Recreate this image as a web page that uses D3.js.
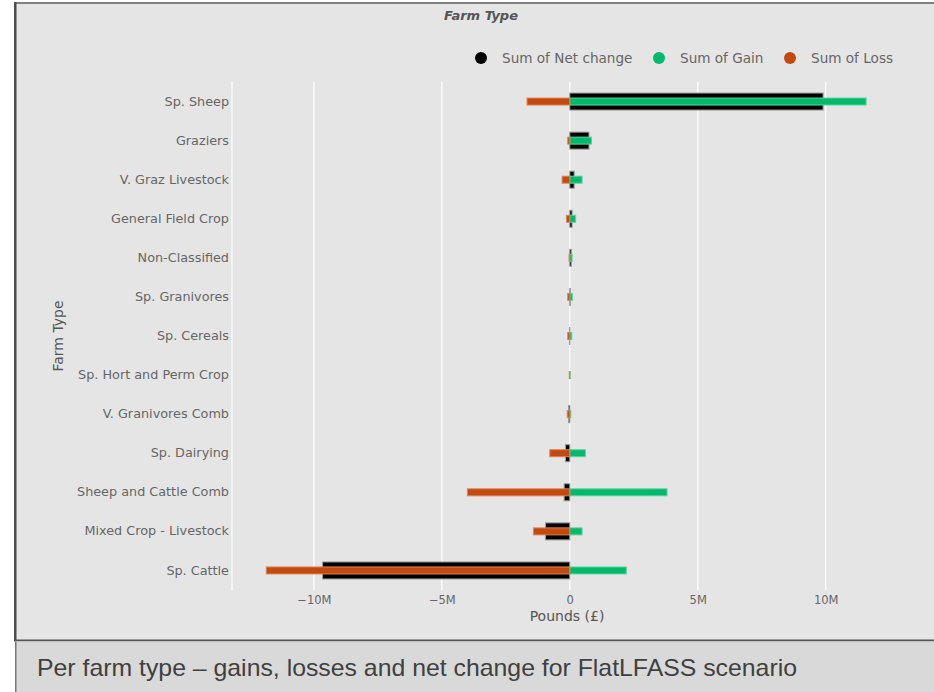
<!DOCTYPE html>
<html>
<head>
<meta charset="utf-8">
<script src="https://cdn.jsdelivr.net/npm/d3@7"></script>
<style>
  html, body { margin: 0; padding: 0; background: #fff; }
  svg { display: block; }
</style>
</head>
<body>
<div id="chart"></div>
<script>
// values, in millions of pounds
var farmTypes = ["Sp. Sheep", "Graziers", "V. Graz Livestock", "General Field Crop",
    "Non-Classified", "Sp. Granivores", "Sp. Cereals", "Sp. Hort and Perm Crop",
    "V. Granivores Comb", "Sp. Dairying", "Sheep and Cattle Comb",
    "Mixed Crop - Livestock", "Sp. Cattle"];
var netChange = [9.9, 0.75, 0.17, 0.09, 0.06, 0.02, -0.01, 0.0, -0.05, -0.17, -0.22, -0.95, -9.66];
var gain      = [11.58, 0.85, 0.48, 0.23, 0.09, 0.1, 0.08, 0.02, 0.04, 0.61, 3.8, 0.48, 2.21];
var loss      = [-1.67, -0.08, -0.3, -0.13, -0.03, -0.08, -0.08, -0.02, -0.1, -0.78, -4.0, -1.42, -11.86];

var xTicks = [-10, -5, 0, 5, 10];
var xTickLabels = ["\u221210M", "\u22125M", "0", "5M", "10M"];

var legendNames = ["Sum of Net change", "Sum of Gain", "Sum of Loss"];
var colors = ["#000000", "#00b96c", "#c4490f"];

var width = 934, height = 692;
var plotTop = 82, plotBottom = 590, plotLeft = 232, plotRight = 905;

var svg = d3.select("#chart").append("svg")
    .attr("width", width)
    .attr("height", height);

// panel and frame
svg.append("rect").attr("x", 14).attr("y", 2).attr("width", width - 14).attr("height", 639)
    .attr("fill", "#e5e5e5");
svg.append("rect").attr("x", 14).attr("y", 2).attr("width", width - 14).attr("height", 2)
    .attr("fill", "#808080");
svg.append("rect").attr("x", 14).attr("y", 2).attr("width", 2.5).attr("height", 639)
    .attr("fill", "#4d4d4d");
svg.append("rect").attr("x", 14).attr("y", 639.5).attr("width", width - 14).attr("height", 2)
    .attr("fill", "#555");

// caption box
svg.append("rect").attr("x", 15).attr("y", 641.5).attr("width", width - 15).attr("height", 51)
    .attr("fill", "#d9d9d9");
svg.append("rect").attr("x", 15).attr("y", 641.5).attr("width", 1.5).attr("height", 51)
    .attr("fill", "#777");
svg.append("text")
    .attr("x", 37).attr("y", 676)
    .attr("font-family", "Liberation Sans Narrow, Liberation Sans, Arial, sans-serif")
    .attr("font-size", 24)
    .attr("fill", "#404040")
    .attr("textLength", 760)
    .attr("lengthAdjust", "spacingAndGlyphs")
    .text("Per farm type \u2013 gains, losses and net change for FlatLFASS scenario");

var x = d3.scaleLinear().domain([-13.2, 13.1]).range([plotLeft, plotRight]);
var y = d3.scaleBand().domain(farmTypes).range([plotTop, plotBottom]);

// grid
var grid = svg.append("g");
grid.selectAll("line.grid")
    .data(xTicks)
    .enter().append("line")
    .attr("class", "grid")
    .attr("x1", function(d) { return x(d); })
    .attr("x2", function(d) { return x(d); })
    .attr("y1", plotTop).attr("y2", plotBottom)
    .attr("stroke", "#fff").attr("stroke-width", 1.2);
grid.append("line")
    .attr("x1", plotLeft).attr("x2", plotLeft)
    .attr("y1", plotTop).attr("y2", plotBottom)
    .attr("stroke", "#fff").attr("stroke-width", 1.2);

// x axis
var xAxis = d3.axisBottom(x)
    .tickValues(xTicks)
    .tickSize(0)
    .tickPadding(0)
    .tickFormat(function(d, i) { return xTickLabels[i]; });
var gx = svg.append("g").attr("transform", "translate(0," + 596 + ")").call(xAxis);
gx.select(".domain").remove();
gx.selectAll("text")
    .attr("font-family", "DejaVu Sans, Verdana, sans-serif")
    .attr("font-size", 11.5)
    .attr("fill", "#666")
    .attr("dy", "0.71em");

svg.append("text")
    .attr("x", 567).attr("y", 621)
    .attr("text-anchor", "middle")
    .attr("font-family", "DejaVu Sans, Verdana, sans-serif")
    .attr("font-size", 14)
    .attr("fill", "#555")
    .text("Pounds (\u00a3)");

// y axis
var yAxis = d3.axisLeft(y).tickSize(0).tickPadding(0);
var gy = svg.append("g").attr("transform", "translate(229,0)").call(yAxis);
gy.select(".domain").remove();
gy.selectAll("text")
    .attr("font-family", "DejaVu Sans, Verdana, sans-serif")
    .attr("font-size", 12.8)
    .attr("fill", "#666");

svg.append("text")
    .attr("transform", "translate(63,336) rotate(-90)")
    .attr("text-anchor", "middle")
    .attr("font-family", "DejaVu Sans, Verdana, sans-serif")
    .attr("font-size", 14)
    .attr("fill", "#555")
    .text("Farm Type");

// title
svg.append("text")
    .attr("x", 481).attr("y", 20)
    .attr("text-anchor", "middle")
    .attr("font-family", "DejaVu Sans, Verdana, sans-serif")
    .attr("font-size", 13)
    .attr("font-weight", "bold")
    .attr("font-style", "italic")
    .attr("fill", "#555")
    .text("Farm Type");

// bars
function barRows(values) {
    return farmTypes.map(function(name, i) { return { name: name, value: values[i] }; });
}

function drawBars(values, color, thick, stroke) {
    svg.append("g").selectAll("rect")
        .data(barRows(values))
        .enter().append("rect")
        .attr("x", function(d) { return x(Math.min(0, d.value)); })
        .attr("y", function(d) { return y(d.name) + y.bandwidth() / 2 - thick / 2; })
        .attr("width", function(d) { return Math.abs(x(d.value) - x(0)); })
        .attr("height", thick)
        .attr("fill", color)
        .attr("stroke", stroke)
        .attr("stroke-width", 1);
}

drawBars(netChange, colors[0], 17, "#9a9a9a");
drawBars(gain, colors[1], 7, "#5fd39d");
drawBars(loss, colors[2], 7, "#d9845c");

// legend
var legendX = [481, 659, 790];
var legend = svg.append("g").selectAll("g")
    .data(legendNames)
    .enter().append("g")
    .attr("transform", function(d, i) { return "translate(" + legendX[i] + ",58)"; });
legend.append("circle")
    .attr("r", 6)
    .attr("fill", function(d, i) { return colors[i]; });
legend.append("text")
    .attr("x", 21).attr("dy", "0.35em")
    .attr("font-family", "DejaVu Sans, Verdana, sans-serif")
    .attr("font-size", 13.6)
    .attr("fill", "#666")
    .text(function(d) { return d; });
</script>
</body>
</html>
